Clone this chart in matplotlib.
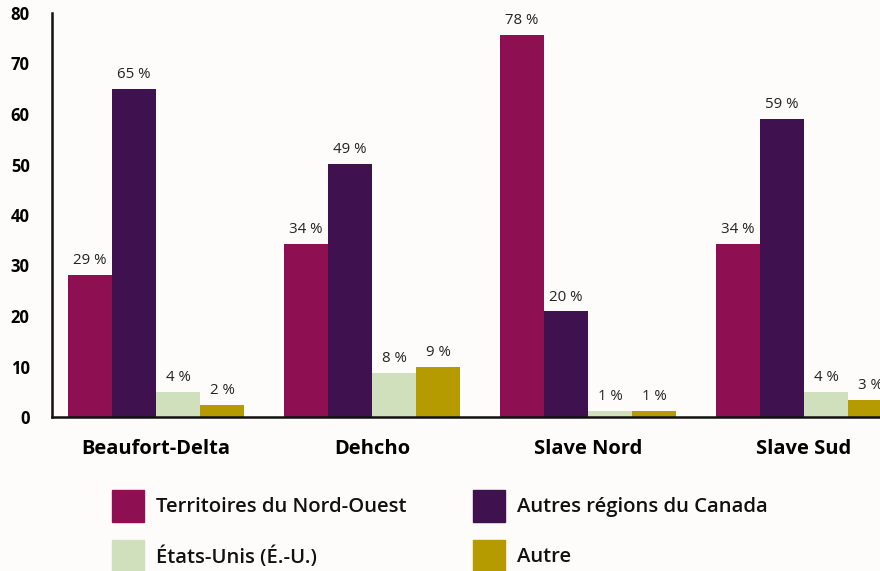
import numpy as np
import matplotlib.pyplot as plt
from matplotlib.patches import Rectangle

plt.rcParams['font.family'] = ['Open Sans', 'DejaVu Sans']

regions = ["Beaufort-Delta", "Dehcho", "Slave Nord", "Slave Sud"]
series = ["Territoires du Nord-Ouest", "Autres régions du Canada",
          "États-Unis (É.-U.)", "Autre"]
colors = ["#8e0f52", "#3f114e", "#d0dfbc", "#b59a00"]

# bar heights as drawn, and the printed labels
tno = [28.2, 34.2, 75.6, 34.2]
autres_canada = [65.0, 50.1, 20.9, 59.0]
etats_unis = [5.0, 8.8, 1.2, 5.0]
autre = [2.4, 9.9, 1.2, 3.4]

tno_lbl = [29, 34, 78, 34]
autres_canada_lbl = [65, 49, 20, 59]
etats_unis_lbl = [4, 8, 1, 4]
autre_lbl = [2, 9, 1, 3]

values = [tno, autres_canada, etats_unis, autre]
labels = [tno_lbl, autres_canada_lbl, etats_unis_lbl, autre_lbl]

fig = plt.figure(figsize=(8.8, 5.71), dpi=100)
fig.patch.set_facecolor("#fdfcfa")
ax = fig.add_axes([52 / 880, 154 / 571, 1 - 52 / 880, 404 / 571])
ax.set_facecolor("none")

x = np.arange(len(regions))
w = 44 / 216
for i, (vals, lbls) in enumerate(zip(values, labels)):
    pos = x + (i - 1.5) * w
    bars = ax.bar(pos, vals, width=w, color=colors[i], zorder=2)
    ax.bar_label(bars, labels=[f"{v} %" for v in lbls], padding=5,
                 fontsize=10.8, color="#222222")

ax.set_xlim(-104 / 216, 3 + 76 / 216)
ax.set_ylim(0, 80)
ax.set_yticks(range(0, 81, 10))
ax.set_xticks(x)
ax.set_xticklabels(regions, fontsize=14.5, fontweight="bold")
ax.tick_params(axis="x", length=0, pad=15.5)
ax.tick_params(axis="y", length=0, pad=16, labelsize=12)
for t in ax.get_yticklabels():
    t.set_fontweight("bold")

for s in ["top", "right"]:
    ax.spines[s].set_visible(False)
for s in ["left", "bottom"]:
    ax.spines[s].set_linewidth(1.8)
    ax.spines[s].set_color("#111111")

# legend, 2x2
leg_x = [112, 473]
leg_y = [490, 540]
for i, name in enumerate(series):
    col, row = i % 2, i // 2
    x0 = leg_x[col] / 880
    y0 = 1 - (leg_y[row] + 32) / 571
    fig.add_artist(Rectangle((x0, y0), 32 / 880, 32 / 571,
                             transform=fig.transFigure, color=colors[i]))
    fig.text(x0 + 44 / 880, 1 - (leg_y[row] + 17) / 571, name,
             fontsize=14.6, fontweight="semibold", va="center", ha="left",
             color="#111111")

fig.savefig("out.png", dpi=100, facecolor=fig.get_facecolor())
